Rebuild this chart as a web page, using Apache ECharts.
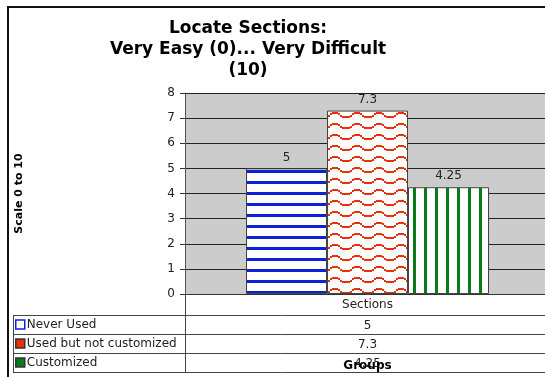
<!DOCTYPE html>
<html>
<head>
<meta charset="utf-8">
<script src="https://cdn.jsdelivr.net/npm/echarts@6/dist/echarts.min.js"></script>
<style>
  html, body { margin: 0; padding: 0; background: #fff; overflow: hidden; }
  #chart { width: 550px; height: 377px; }
</style>
</head>
<body>
<div id="chart"></div>
<script>
// Survey result: how hard it is to locate sections, by user group
const categories = ['Sections'];
const groupNames = ['Never Used', 'Used but not customized', 'Customized'];
const neverUsed = [5];
const usedNotCustomized = [7.3];
const customized = [4.25];
const yTickValues = [0, 1, 2, 3, 4, 5, 6, 7, 8];

const FONT = 'DejaVu Sans, Verdana, sans-serif';
const BLUE = '#0A22D6';
const RED = '#E8300A';
const GREEN = '#0B7A1B';

// Fill patterns for the three bars
function hStripes(color) {
  const c = document.createElement('canvas');
  c.width = 11; c.height = 11;
  const g = c.getContext('2d');
  g.fillStyle = '#fff'; g.fillRect(0, 0, 11, 11);
  g.fillStyle = color; g.fillRect(0, 5, 11, 3);
  return c;
}
function vStripes(color) {
  const c = document.createElement('canvas');
  c.width = 11; c.height = 11;
  const g = c.getContext('2d');
  g.fillStyle = '#fff'; g.fillRect(0, 0, 11, 11);
  g.fillStyle = color; g.fillRect(6, 0, 3, 11);
  return c;
}
function waves(color) {
  const w = 22, h = 11;
  const c = document.createElement('canvas');
  c.width = w; c.height = h;
  const g = c.getContext('2d');
  g.fillStyle = '#fff'; g.fillRect(0, 0, w, h);
  g.fillStyle = color;
  for (let x = 0; x < w; x += 2) {
    const y = Math.round(2 + 2.2 * (1 - Math.cos(2 * Math.PI * (x - 4) / w)));
    g.fillRect(x, y, 2, 2);
  }
  return c;
}

const seriesData = [neverUsed, usedNotCustomized, customized];
const fills = [
  { image: hStripes(BLUE), repeat: 'repeat' },
  { image: waves(RED), repeat: 'repeat' },
  { image: vStripes(GREEN), repeat: 'repeat' }
];

const chart = echarts.init(document.getElementById('chart'), null, { renderer: 'canvas' });

const option = {
  animation: false,
  backgroundColor: '#fff',
  title: {
    text: 'Locate Sections:\nVery Easy (0)... Very Difficult\n(10)',
    left: 243,
    top: 13,
    textAlign: 'center',
    textStyle: { fontFamily: FONT, fontSize: 17, fontWeight: 'bold', color: '#000', lineHeight: 21 }
  },
  legend: {
    orient: 'vertical',
    left: 15,
    top: 315,
    padding: 0,
    height: 60,
    itemGap: 0,
    itemWidth: 9,
    itemHeight: 9,
    icon: 'rect',
    selectedMode: false,
    textStyle: { fontFamily: FONT, fontSize: 12, color: '#222', lineHeight: 19, padding: [0, 0, 0, -3] },
    data: [
      { name: groupNames[0], itemStyle: { color: '#fff', borderColor: BLUE, borderWidth: 1.5 } },
      { name: groupNames[1], itemStyle: { color: RED, borderColor: '#333', borderWidth: 1.5 } },
      { name: groupNames[2], itemStyle: { color: GREEN, borderColor: '#333', borderWidth: 1.5 } }
    ]
  },
  grid: {
    left: 185, top: 93, right: 0, height: 202,
    show: true, backgroundColor: '#CCCCCC', borderWidth: 0
  },
  xAxis: {
    type: 'category',
    data: categories,
    name: 'Groups',
    nameLocation: 'middle',
    nameGap: 66,
    nameTextStyle: { fontFamily: FONT, fontSize: 12, fontWeight: 'bold', color: '#000' },
    axisLine: { lineStyle: { color: '#333', width: 1 } },
    axisTick: { show: false },
    axisLabel: { margin: 5, fontFamily: FONT, fontSize: 12, color: '#222' }
  },
  yAxis: {
    type: 'value',
    min: yTickValues[0],
    max: yTickValues[yTickValues.length - 1],
    interval: 1,
    name: 'Scale 0 to 10',
    nameLocation: 'middle',
    nameRotate: 90,
    nameGap: 160,
    nameTextStyle: { fontFamily: FONT, fontSize: 11, fontWeight: 'bold', color: '#000' },
    axisLine: { show: true, lineStyle: { color: '#555', width: 1 } },
    axisTick: { show: true, length: 5, lineStyle: { color: '#333' } },
    axisLabel: { margin: 10, fontFamily: FONT, fontSize: 12, color: '#222' },
    splitLine: { show: true, lineStyle: { color: '#222', width: 1 } }
  },
  series: groupNames.map((name, i) => ({
    name: name,
    type: 'bar',
    data: seriesData[i],
    barWidth: 81,
    barGap: '0%',
    itemStyle: { color: fills[i], borderColor: '#444', borderWidth: 1 },
    label: {
      show: true, position: 'top', distance: 5,
      fontFamily: FONT, fontSize: 12, color: '#222'
    }
  }))
};

chart.setOption(option);

// Data table under the plot: values per group, aligned to the category column
const colX = chart.convertToPixel({ xAxisIndex: 0 }, categories[0]);
const gridLeft = 185;
const rowTop = 315, rowH = 19;
const lineStyle = { stroke: '#444', lineWidth: 1 };
const tableGraphics = [];
for (let r = 0; r <= groupNames.length; r++) {
  const y = rowTop + r * rowH + 0.5;
  tableGraphics.push({ type: 'line', shape: { x1: 13, y1: y, x2: 550, y2: y }, style: lineStyle, silent: true });
}
tableGraphics.push({ type: 'line', shape: { x1: 13.5, y1: rowTop, x2: 13.5, y2: rowTop + groupNames.length * rowH }, style: lineStyle, silent: true });
tableGraphics.push({ type: 'line', shape: { x1: gridLeft + 0.5, y1: 295, x2: gridLeft + 0.5, y2: rowTop + groupNames.length * rowH }, style: lineStyle, silent: true });
seriesData.forEach((vals, r) => {
  tableGraphics.push({
    type: 'text',
    x: colX,
    y: rowTop + r * rowH + rowH / 2 + 1,
    silent: true,
    style: {
      text: String(vals[0]),
      fontFamily: FONT, fontSize: 12, fill: '#222',
      align: 'center', verticalAlign: 'middle'
    }
  });
});
// Outer chart frame
tableGraphics.push({
  type: 'rect', shape: { x: 8, y: 7, width: 600, height: 400 },
  style: { fill: 'none', stroke: '#111', lineWidth: 2 }, silent: true, z: 100
});

chart.setOption({ graphic: tableGraphics });
</script>
</body>
</html>
